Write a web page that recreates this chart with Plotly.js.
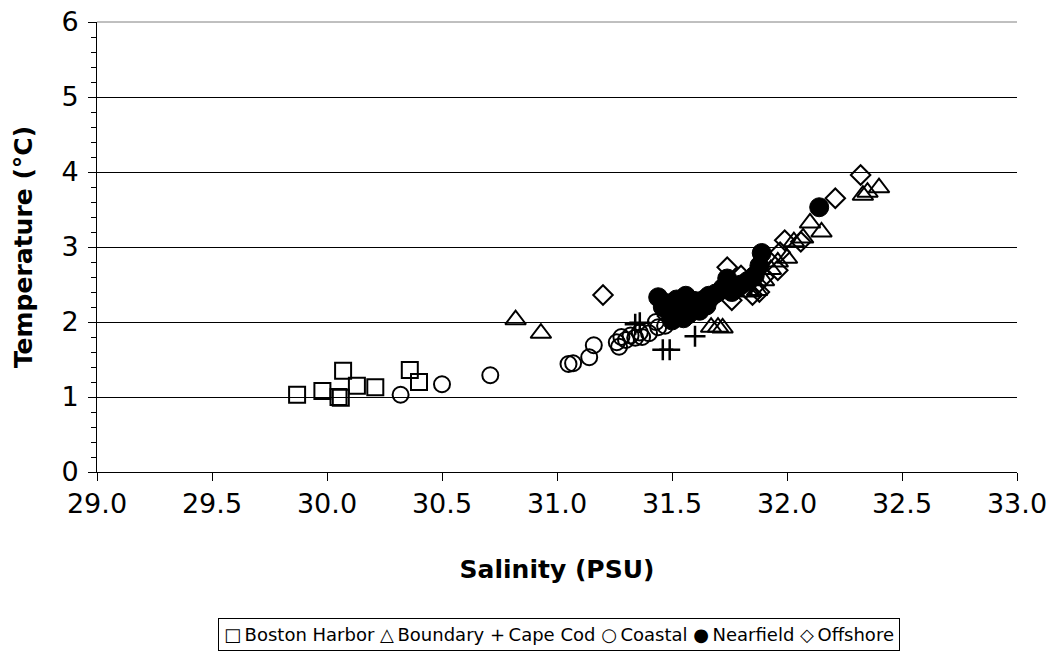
<!DOCTYPE html>
<html><head><meta charset="utf-8">
<script src="https://cdn.plot.ly/plotly-3.0.1.min.js"></script>
<style>html,body{margin:0;padding:0;background:#fff}#chart{width:1052px;height:654px}</style>
</head><body><div id="chart"></div>
<script>
// Boston Harbor
var harborSal  = [29.87, 29.98, 30.05, 30.06, 30.07, 30.13, 30.21, 30.36, 30.40];
var harborTemp = [1.03, 1.08, 1.00, 0.99, 1.35, 1.15, 1.13, 1.36, 1.20];
// Boundary
var boundarySal  = [30.82, 30.93, 31.67, 31.70, 31.72, 31.84, 31.87, 31.90, 31.93, 31.96, 32.00, 32.03, 32.07, 32.10, 32.15, 32.33, 32.35, 32.40];
var boundaryTemp = [2.03, 1.85, 1.93, 1.93, 1.92, 2.40, 2.42, 2.55, 2.70, 2.80, 2.85, 3.07, 3.12, 3.32, 3.20, 3.69, 3.73, 3.79];
// Cape Cod
var capeSal  = [31.34, 31.36, 31.46, 31.49, 31.60];
var capeTemp = [1.97, 1.99, 1.63, 1.63, 1.81];
// Coastal
var coastalSal  = [30.32, 30.50, 30.71, 31.05, 31.07, 31.14, 31.16, 31.26, 31.27, 31.28, 31.30, 31.32, 31.34, 31.36, 31.37, 31.40, 31.43, 31.44, 31.47, 31.50];
var coastalTemp = [1.03, 1.17, 1.29, 1.44, 1.45, 1.53, 1.69, 1.73, 1.67, 1.80, 1.76, 1.82, 1.79, 1.86, 1.80, 1.85, 2.00, 1.93, 1.95, 2.05];
// Nearfield
var nearSal  = [31.44, 31.46, 31.48, 31.50, 31.52, 31.53, 31.55, 31.56, 31.58, 31.60, 31.62, 31.64, 31.66, 31.69, 31.72, 31.74, 31.76, 31.80, 31.83, 31.86, 31.88, 31.89, 32.14, 31.50, 31.57, 31.65];
var nearTemp = [2.33, 2.20, 2.25, 2.12, 2.30, 2.18, 2.05, 2.35, 2.22, 2.28, 2.15, 2.30, 2.35, 2.38, 2.45, 2.58, 2.40, 2.50, 2.55, 2.62, 2.75, 2.92, 3.53, 2.02, 2.10, 2.22];
// Offshore
var offSal  = [31.20, 31.48, 31.56, 31.62, 31.67, 31.74, 31.76, 31.80, 31.82, 31.85, 31.87, 31.88, 31.90, 31.96, 31.97, 31.99, 32.06, 32.21, 32.32];
var offTemp = [2.36, 2.08, 2.15, 2.22, 2.30, 2.73, 2.29, 2.62, 2.45, 2.36, 2.50, 2.40, 2.60, 2.69, 2.93, 3.09, 3.07, 3.65, 3.96];

var seriesNames  = ['Boston Harbor', 'Boundary', 'Cape Cod', 'Coastal', 'Nearfield', 'Offshore'];
var legendGlyphs = ['\u25A1', '\u25B3', '+', '\u25CB', '\u25CF', '\u25C7'];

function tr(name, xs, ys, marker) {
  return {type: 'scatter', mode: 'markers', name: name, x: xs, y: ys, marker: marker, cliponaxis: false, showlegend: false};
}
var data = [
  tr(seriesNames[0], harborSal, harborTemp, {symbol: 'square-open', size: 16, color: '#000', line: {width: 2, color: '#000'}}),
  tr(seriesNames[1], boundarySal, boundaryTemp, {symbol: 'triangle-up-open', size: 18, color: '#000', line: {width: 2, color: '#000'}}),
  tr(seriesNames[2], capeSal, capeTemp, {symbol: 'cross-thin-open', size: 15, color: '#000', line: {width: 2.5, color: '#000'}}),
  tr(seriesNames[3], coastalSal, coastalTemp, {symbol: 'circle-open', size: 16, color: '#000', line: {width: 2, color: '#000'}}),
  tr(seriesNames[4], nearSal, nearTemp, {symbol: 'circle', size: 19, color: '#000', line: {width: 1, color: '#000'}}),
  tr(seriesNames[5], offSal, offTemp, {symbol: 'diamond-open', size: 15, color: '#000', line: {width: 2, color: '#000'}})
];

var legendText = seriesNames.map(function (n, i) { return legendGlyphs[i] + '\u2009' + n; }).join(' ');

var FONT = 'DejaVu Sans, Liberation Sans, Arial, sans-serif';
var layout = {
  width: 1052, height: 654,
  margin: {l: 97, r: 35, t: 22, b: 182},
  paper_bgcolor: '#fff', plot_bgcolor: '#fff',
  font: {family: FONT, color: '#000'},
  showlegend: false,
  xaxis: {
    range: [29, 33], dtick: 0.5, tick0: 29, tickformat: '.1f',
    showgrid: false, zeroline: false, showline: true, linecolor: '#000', linewidth: 1,
    ticks: 'outside', ticklen: 8, tickcolor: '#000',
    tickfont: {size: 27}, automargin: false,
    title: {text: '<b>Salinity (PSU)</b>', font: {size: 25}, standoff: 42}
  },
  yaxis: {
    range: [0, 6], dtick: 1, tick0: 0,
    showgrid: true, gridcolor: '#000', gridwidth: 1, zeroline: false,
    showline: true, linecolor: '#000', linewidth: 1,
    ticks: 'outside', ticklen: 8, tickcolor: '#000', ticklabelstandoff: 4,
    minor: {dtick: 0.2, ticks: 'outside', ticklen: 5, tickcolor: '#000', showgrid: false},
    tickfont: {size: 27}, automargin: false,
    title: {text: '<b>Temperature (°C)</b>', font: {size: 25}, standoff: 21}
  },
  shapes: [
    {type: 'line', xref: 'paper', yref: 'paper', x0: 0, x1: 1, y0: 1, y1: 1, line: {color: '#808080', width: 1}}
  ],
  annotations: [
    {xref: 'paper', yref: 'paper', x: 0.5027, y: -0.3622, xanchor: 'center', yanchor: 'middle',
     text: legendText, showarrow: false, font: {size: 18, family: FONT},
     bordercolor: '#000', borderwidth: 1, borderpad: 5, bgcolor: '#fff'}
  ]
};
Plotly.newPlot('chart', data, layout, {staticPlot: true});
</script></body></html>
